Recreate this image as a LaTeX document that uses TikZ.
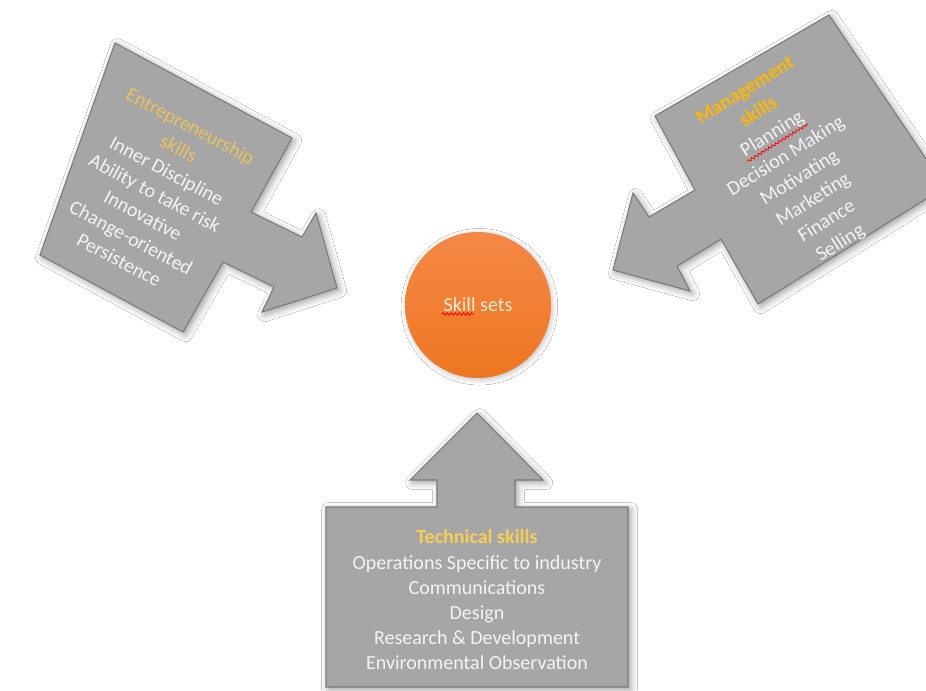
\documentclass[tikz,border=0pt]{standalone}
\usepackage{fontspec}
\setmainfont{Carlito}
\usetikzlibrary{shadows.blur,decorations.pathmorphing}
\definecolor{boxgray}{RGB}{166,166,166}
\definecolor{boxedge}{RGB}{122,122,122}
\definecolor{txtwhite}{RGB}{243,243,243}
\definecolor{titleA}{RGB}{232,194,92}
\definecolor{titleB}{RGB}{248,184,10}
\definecolor{titleC}{RGB}{246,206,84}
\definecolor{orangeTop}{RGB}{245,136,70}
\definecolor{orangeBot}{RGB}{238,118,32}
\definecolor{cream}{RGB}{255,238,215}
\begin{document}
\begin{tikzpicture}[x=0.02cm,y=-0.02cm,
  arrowshape/.style={fill=boxgray, draw=boxedge, line width=0.6pt, line join=miter,
    blur shadow={shadow xshift=1.5pt, shadow yshift=-1.5pt, shadow blur radius=4pt, shadow opacity=40}},
  itemtext/.style={text=txtwhite, font=\fontsize{11.4}{13}\selectfont, anchor=base, inner sep=0pt, transform shape},
  titletext/.style={itemtext, font=\fontsize{11.4}{13}\selectfont\bfseries},
  squig/.style={draw=red, line width=0.45pt, decorate, decoration={snake, segment length=2.3pt, amplitude=0.7pt}}
]
\useasboundingbox (0,0) rectangle (926,690);
\fill[white] (0,0) rectangle (926,690);

% Entrepreneurship arrow (pointing right-down)
\path[arrowshape] (115,43) -- (292,138) -- (251,212) -- (302,237) -- (316,213) -- (337,288)
  -- (262,312) -- (274,287) -- (223,262) -- (183,332) -- (40,255) -- cycle;

% Management arrow (pointing left-down); its right corner lies beyond the picture's edge
\begin{scope}
\clip (0,0) rectangle (926,690);
\path[arrowshape] (829,15) -- (945,187) -- (758,304) -- (721,239) -- (677,266) -- (690,291)
  -- (613,270) -- (633,193) -- (649,217) -- (695,190) -- (655,116) -- cycle;
\end{scope}

% Technical arrow (pointing up)
\path[arrowshape] (326,507) -- (437,507) -- (437,480) -- (410,480) -- (477,413) -- (543,480)
  -- (515,480) -- (515,507) -- (628,507) -- (628,687) -- (326,687) -- cycle;

% Centre circle
\node[circle, minimum size=2.92cm, inner sep=0pt, top color=orangeTop, bottom color=orangeBot,
  draw=none, text=cream, font=\fontsize{11.4}{13}\selectfont,
  blur shadow={shadow xshift=0.8pt, shadow yshift=-1pt, shadow blur radius=3pt, shadow opacity=25}]
  (core) at (478,305) {Skill sets};
\draw[squig] ([shift={(-36,9)}]core.center) -- ([shift={(-4,9)}]core.center);

% Entrepreneurship text
\begin{scope}[shift={(154.5,193.7)}, rotate=-28]
  \node[itemtext, text=titleA] (e1) at (0,-69.9) {Entrepreneurship};
  \node[itemtext, text=titleA] (e2) at (0,-44.6) {skills};
  \node[itemtext] (e3) at (0,-19.3) {Inner Discipline};
  \node[itemtext] (e4) at (0,6) {Ability to take risk};
  \node[itemtext] (e5) at (0,31.3) {Innovative};
  \node[itemtext] (e6) at (0,56.6) {Change-oriented};
  \node[itemtext] (e7) at (0,81.9) {Persistence};
\end{scope}

% Management text
\begin{scope}[shift={(792.5,166.5)}, rotate=32]
  \node[titletext, text=titleB] (m1) at (0,-84) {Management};
  \node[titletext, text=titleB] (m2) at (0,-58.3) {skills};
  \node[itemtext] (m3) at (0,-32.6) {Planning};
  \node[itemtext] (m4) at (0,-6.9) {Decision Making};
  \node[itemtext] (m5) at (0,18.9) {Motivating};
  \node[itemtext] (m6) at (0,44.6) {Marketing};
  \node[itemtext] (m7) at (0,70.3) {Finance};
  \node[itemtext] (m8) at (0,96) {Selling};
  \draw[squig] ([yshift=-2.6pt]m3.base west) -- ([yshift=-2.6pt]m3.base east);
\end{scope}

% Technical text
\node[titletext, text=titleC] (t1) at (477,543) {Technical skills};
\node[itemtext] (t2) at (477,569) {Operations Specific to industry};
\node[itemtext] (t3) at (477,594) {Communications};
\node[itemtext] (t4) at (477,619) {Design};
\node[itemtext] (t5) at (477,644) {Research \& Development};
\node[itemtext] (t6) at (477,669) {Environmental Observation};
\end{tikzpicture}
\end{document}
